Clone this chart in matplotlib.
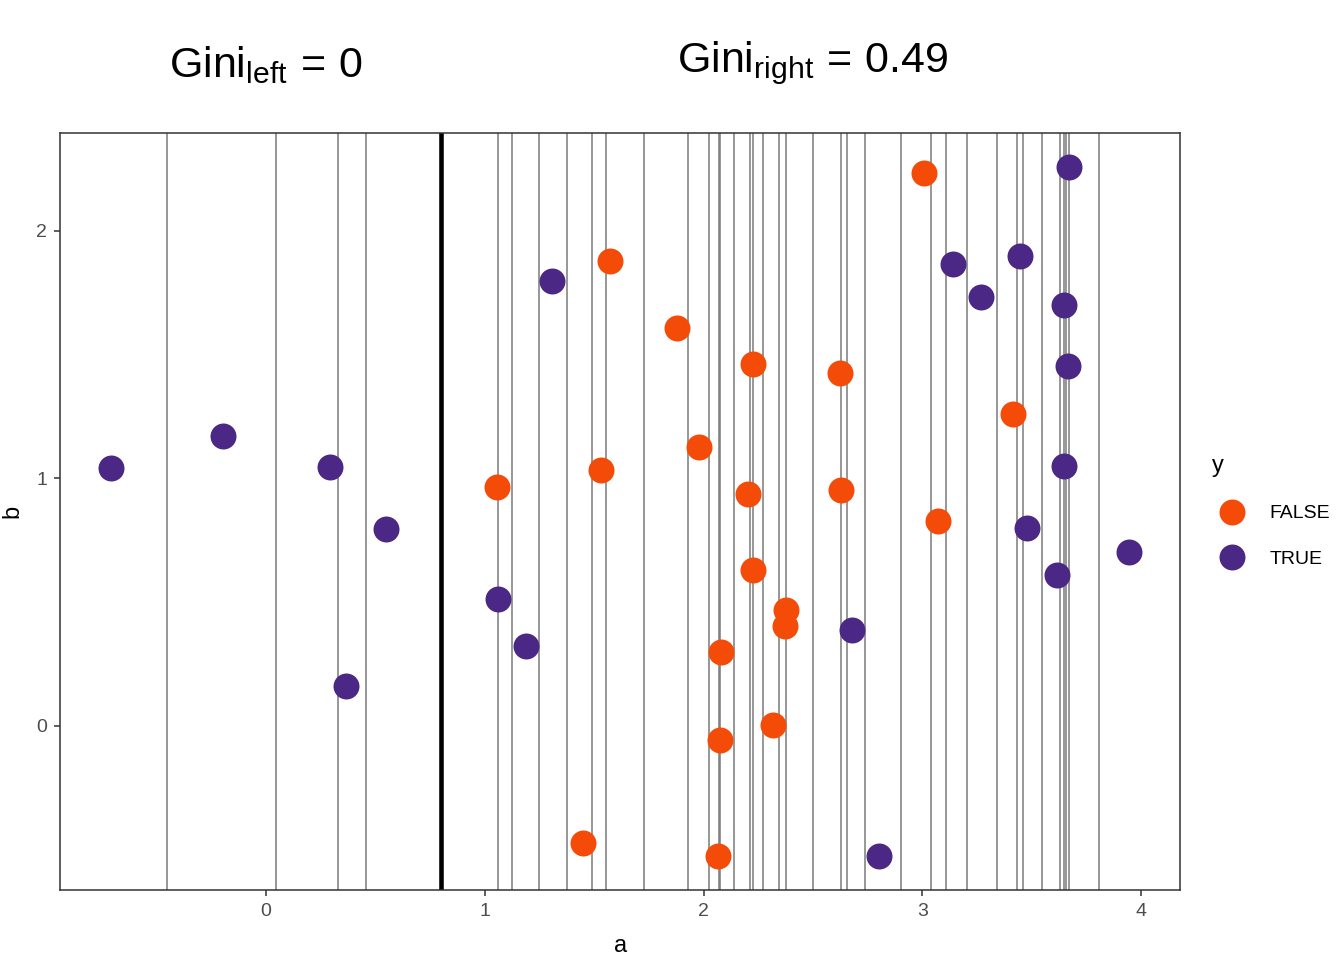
import numpy as np
import matplotlib
matplotlib.use("Agg")
import matplotlib.pyplot as plt
from matplotlib.lines import Line2D

plt.rcParams['font.family'] = ['Liberation Sans', 'DejaVu Sans']
plt.rcParams['mathtext.fontset'] = 'custom'
plt.rcParams['mathtext.rm'] = 'Liberation Sans'
plt.rcParams['mathtext.it'] = 'Liberation Sans'

# Punkte mit y = TRUE
a_true = [-0.707, -0.197, 0.293, 0.549, 0.366, 1.306, 1.062, 1.187, 2.679, 2.801,
          3.141, 3.267, 3.447, 3.647, 3.665, 3.672, 3.647, 3.478, 3.615, 3.945]
b_true = [1.041, 1.171, 1.045, 0.797, 0.162, 1.798, 0.512, 0.323, 0.388, -0.525,
          1.865, 1.733, 1.898, 1.701, 1.453, 2.259, 1.052, 0.799, 0.609, 0.702]

# Punkte mit y = FALSE
a_false = [1.057, 1.533, 1.574, 1.880, 1.981, 2.225, 2.202, 2.225, 2.379, 2.373,
           2.079, 2.075, 2.316, 1.448, 2.065, 2.624, 2.630, 3.008, 3.072, 3.416]
b_false = [0.967, 1.036, 1.880, 1.608, 1.127, 1.463, 0.936, 0.630, 0.467, 0.404,
           0.298, -0.055, 0.003, -0.472, -0.525, 1.426, 0.954, 2.233, 0.827, 1.262]

split_a = 0.8
gini_left = "0"
gini_right = "0.49"

x_ticks = [0, 1, 2, 3, 4]
y_ticks = [0, 1, 2]

col_false = '#F54B08'
col_true = '#4C2886'

fig = plt.figure(figsize=(13.44, 9.6), dpi=100)
ax = fig.add_axes([0.045, 0.0729, 0.833, 0.7886])

# Kandidaten-Splits: Mittelpunkte zwischen sortierten a-Werten
a_all = np.sort(np.array(a_true + a_false))
mids = (a_all[:-1] + a_all[1:]) / 2
for m in mids:
    ax.axvline(m, color='#7a7a7a', lw=1.1, zorder=1)
ax.axvline(split_a, color='black', lw=3.3, zorder=2)

ax.scatter(a_false, b_false, s=350, color=col_false, linewidths=0, zorder=3)
ax.scatter(a_true, b_true, s=350, color=col_true, linewidths=0, zorder=3)

ax.set_xlim(-0.939, 4.178)
ax.set_ylim(-0.663, 2.396)
ax.set_xticks(x_ticks)
ax.set_yticks(y_ticks)
ax.tick_params(length=4, width=1.1, color='#333333', labelcolor='#4D4D4D',
               labelsize=14, pad=5.5)
for sp in ax.spines.values():
    sp.set_linewidth(1.1)
    sp.set_color('#333333')
ax.set_xlabel('a', fontsize=17, labelpad=11)
ax.set_ylabel('b', fontsize=17, labelpad=9)

handles = [Line2D([], [], ls='', marker='o', ms=18.7, color=col_false, mew=0),
           Line2D([], [], ls='', marker='o', ms=18.7, color=col_true, mew=0)]
leg = ax.legend(handles, ['FALSE', 'TRUE'], title='y', loc='center left',
                bbox_to_anchor=(1.022, 0.5), frameon=False, fontsize=14,
                title_fontsize=17, alignment='left', handlelength=2.0,
                handletextpad=0.95, labelspacing=1.45, borderaxespad=0)

fig.text(0.198, 0.932, r'$\mathrm{Gini}_{\mathrm{left}}\,=\,%s$' % gini_left,
         ha='center', va='center', fontsize=31)
fig.text(0.605, 0.934, r'$\mathrm{Gini}_{\mathrm{right}}\,=\,%s$' % gini_right,
         ha='center', va='center', fontsize=31)

fig.savefig('out.png', dpi=100)
